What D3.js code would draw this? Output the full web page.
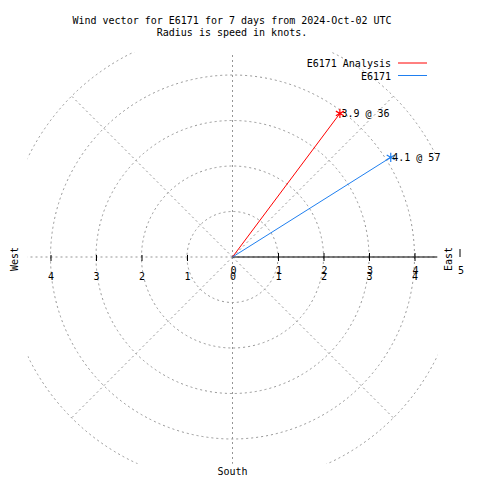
<!DOCTYPE html>
<html><head><meta charset="utf-8">
<script src="https://cdn.jsdelivr.net/npm/d3@7"></script>
<style>
html,body{margin:0;padding:0;background:#fff;}
text{font-family:"DejaVu Sans Mono",monospace;font-size:10px;fill:#000;}
</style></head>
<body><svg id="c" width="480" height="480"></svg>
<script>
const titleLines = ["Wind vector for E6171 for 7 days from 2024-Oct-02 UTC", "Radius is speed in knots."];
const seriesNames = ["E6171 Analysis", "E6171"];
const seriesColors = ["#ff0000", "#1f7ff0"];
const speeds = [3.94, 4.11];
const directions = [36.8, 57.8];
const ringValues = [1, 2, 3, 4, 5];
const spokeAngles = [0, 45, 90, 135, 180, 225, 270, 315];
const tickValues = [1, 2, 3, 4];
const compassLabels = ["West", "East", "South"];

const svg = d3.select("#c");
const cx = 232.5, cy = 257;
const r = d3.scaleLinear().domain([0, 5]).range([0, 227.5]);
const lim = 4.5;

svg.append("rect").attr("width", 480).attr("height", 480).attr("fill", "#fff");

svg.append("defs").append("clipPath").attr("id", "plotclip")
  .append("rect")
  .attr("x", -r(lim)).attr("y", -r(lim))
  .attr("width", 2 * r(lim)).attr("height", 2 * r(lim) + 2);

const grid = svg.append("g").attr("transform", `translate(${cx},${cy})`)
  .append("g").attr("clip-path", "url(#plotclip)");
const gridStyle = s => s.attr("fill", "none").attr("stroke", "#959595")
  .attr("stroke-width", 1).attr("stroke-dasharray", "2,3");

grid.selectAll("circle.ring").data(ringValues).join("circle")
  .attr("class", "ring").attr("r", d => r(d)).call(gridStyle);
grid.selectAll("line.spoke").data(spokeAngles).join("line")
  .attr("class", "spoke")
  .attr("x1", 0).attr("y1", 0)
  .attr("x2", d => d3.pointRadial(d * Math.PI / 180, r(5))[0])
  .attr("y2", d => d3.pointRadial(d * Math.PI / 180, r(5))[1])
  .call(gridStyle);

// East axis (solid)
const xE = d3.scaleLinear().domain([0, lim]).range([cx, cx + r(lim)]);
const axE = svg.append("g").attr("transform", `translate(0,${cy})`)
  .call(d3.axisBottom(xE).tickValues(tickValues).tickSize(4).tickFormat(""));
axE.select(".domain").attr("d", `M${cx},0H${cx + r(lim)}`).attr("stroke", "#000");
axE.selectAll(".tick line").attr("y1", -4).attr("y2", 4).attr("stroke", "#000");

// West ticks
const xW = d3.scaleLinear().domain([0, lim]).range([cx, cx - r(lim)]);
const axW = svg.append("g").attr("transform", `translate(0,${cy})`)
  .call(d3.axisBottom(xW).tickValues(tickValues).tickSize(4).tickFormat(""));
axW.select(".domain").remove();
axW.selectAll(".tick line").attr("y1", -2).attr("y2", 4).attr("stroke", "#000");

// symmetric labels
const symVals = [-4, -3, -2, -1, 0, 1, 2, 3, 4];
const xs = d3.scaleLinear().domain([-5, 5]).range([cx - r(5), cx + r(5)]);
svg.append("g").selectAll("text").data(symVals).join("text")
  .attr("x", d => xs(d) + 0.5).attr("y", 280).attr("text-anchor", "middle")
  .text(d => Math.abs(d));
// east labels (second set, overprinted as in the reference)
const eastVals = [0, 1, 2, 3, 4, 5];
svg.append("g").selectAll("text").data(eastVals).join("text")
  .attr("x", d => xs(d) + 1).attr("y", 274).attr("text-anchor", "middle")
  .text(d => d);
svg.append("line").attr("x1", xs(5)).attr("x2", xs(5)).attr("y1", 249).attr("y2", 257)
  .attr("stroke", "#000");

// compass labels
svg.append("text").attr("transform", "translate(18,259) rotate(-90)")
  .attr("text-anchor", "middle").text(compassLabels[0]);
svg.append("text").attr("transform", "translate(452,259) rotate(-90)")
  .attr("text-anchor", "middle").text(compassLabels[1]);
svg.append("text").attr("x", cx).attr("y", 475).attr("text-anchor", "middle").text(compassLabels[2]);

// title
svg.append("g").selectAll("text").data(titleLines).join("text")
  .attr("x", 232).attr("y", (d, i) => 24 + i * 12.3).attr("text-anchor", "middle").text(d => d);

// vectors
const vec = speeds.map((s, i) => {
  const p = d3.pointRadial(directions[i] * Math.PI / 180, r(s));
  return {x: cx + p[0], y: cy + p[1], s, d: directions[i], c: seriesColors[i]};
});
svg.append("g").selectAll("line").data(vec).join("line")
  .attr("x1", cx).attr("y1", cy).attr("x2", d => d.x).attr("y2", d => d.y)
  .attr("stroke", d => d.c).attr("stroke-width", 1);
const star = d3.symbol().type(d3.symbolAsterisk).size(60);
svg.append("g").selectAll("path").data(vec).join("path")
  .attr("transform", d => `translate(${d.x},${d.y})`)
  .attr("d", star).attr("fill", "none").attr("stroke", d => d.c).attr("stroke-width", 1.2);
svg.append("g").selectAll("text").data(vec).join("text")
  .attr("x", d => d.x + 1.5).attr("y", d => d.y + 3.5)
  .text(d => `${d.s.toFixed(1)} @ ${Math.floor(d.d)}`);

// legend
const lg = svg.append("g").selectAll("g").data(seriesNames).join("g")
  .attr("transform", (d, i) => `translate(0,${67 + i * 12.5})`);
lg.append("text").attr("x", 391).attr("y", 0).attr("text-anchor", "end").text(d => d);
lg.append("line").attr("x1", 398).attr("x2", 427).attr("y1", -4).attr("y2", -4)
  .attr("stroke", (d, i) => seriesColors[i]).attr("stroke-width", 1);
</script></body></html>
